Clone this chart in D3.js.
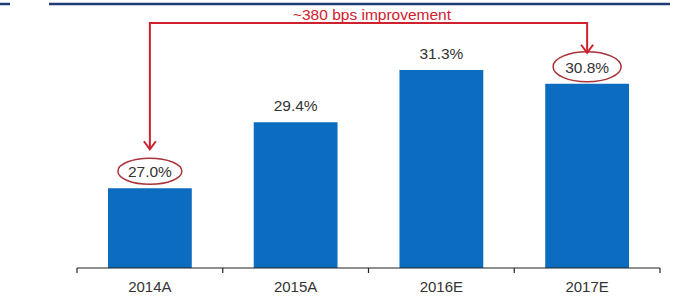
<!DOCTYPE html>
<html>
<head>
<meta charset="utf-8">
<script src="https://cdn.jsdelivr.net/npm/d3@7"></script>
<style>
  body { margin: 0; background: #fff; }
  text { font-family: "Liberation Sans", Arial, sans-serif; }
</style>
</head>
<body>
<div id="chart"></div>
<script>
// Chart data
const categories = ["2014A", "2015A", "2016E", "2017E"];
const values = [27.0, 29.4, 31.3, 30.8];
const valueLabels = ["27.0%", "29.4%", "31.3%", "30.8%"];
const highlighted = ["2014A", "2017E"];
const annotation = "~380 bps improvement";

const W = 677, H = 302;
const svg = d3.select("#chart").append("svg")
    .attr("width", W)
    .attr("height", H);

// Scales
const x = d3.scaleBand().domain(categories).range([77, 660]).paddingInner(0.425).paddingOuter(0.2125);
const y = d3.scaleLinear().domain([24.1, 31.3]).range([268, 70]);
const cx = d => x(d) + x.bandwidth() / 2;

// Header rules
svg.append("line").attr("x1", 0).attr("x2", 10).attr("y1", 4).attr("y2", 4)
    .attr("stroke", "#1e3a78").attr("stroke-width", 2.5);
svg.append("line").attr("x1", 49).attr("x2", 670).attr("y1", 4).attr("y2", 4)
    .attr("stroke", "#1e3a78").attr("stroke-width", 2.5);

// Bars
svg.selectAll(".bar").data(categories).enter().append("rect")
    .attr("class", "bar")
    .attr("x", d => x(d))
    .attr("width", x.bandwidth())
    .attr("y", (d, i) => y(values[i]))
    .attr("height", (d, i) => y.range()[0] - y(values[i]))
    .attr("fill", "#0b6cc0");

// Value labels
svg.selectAll(".val").data(categories).enter().append("text")
    .attr("class", "val")
    .attr("x", d => cx(d))
    .attr("y", (d, i) => y(values[i]) - 11)
    .attr("text-anchor", "middle")
    .attr("font-size", 15.5)
    .attr("fill", "#333")
    .text((d, i) => valueLabels[i]);

// Ellipses around highlighted labels
const ringSize = [[32, 13], [34, 15]];
const rings = highlighted.map((d, k) => ({
    cx: cx(d),
    cy: y(values[categories.indexOf(d)]) - 17,
    rx: ringSize[k][0],
    ry: ringSize[k][1]
}));
svg.selectAll(".ring").data(rings).enter().append("ellipse")
    .attr("class", "ring")
    .attr("cx", d => d.cx)
    .attr("cy", d => d.cy)
    .attr("rx", d => d.rx)
    .attr("ry", d => d.ry)
    .attr("fill", "none")
    .attr("stroke", "#a83238")
    .attr("stroke-width", 1.5);

// X axis
const xAxis = svg.append("g").attr("transform", `translate(0,${y.range()[0]})`);
xAxis.append("line").attr("x1", 77).attr("x2", 660).attr("stroke", "#222").attr("stroke-width", 1.2);
const bounds = categories.map(d => x(d) - x.step() * x.paddingInner() / 2).concat([660]);
bounds[0] = 77;
xAxis.selectAll(".tick").data(bounds).enter().append("line")
    .attr("x1", d => d).attr("x2", d => d).attr("y1", 0).attr("y2", 5)
    .attr("stroke", "#222").attr("stroke-width", 1.2);
xAxis.selectAll(".cat").data(categories).enter().append("text")
    .attr("x", d => cx(d))
    .attr("y", 24)
    .attr("text-anchor", "middle")
    .attr("font-size", 15)
    .attr("fill", "#333")
    .text(d => d);

// Annotation arrow
const topY = 23;
const red = "#d0202e";
const tips = [rings[0].cy - rings[0].ry - 9, rings[1].cy - rings[1].ry + 1];
svg.append("path")
    .attr("d", `M${rings[0].cx},${tips[0]} V${topY} H${rings[1].cx} V${tips[1]}`)
    .attr("fill", "none").attr("stroke", red).attr("stroke-width", 2);
rings.forEach((r, k) => {
    svg.append("path")
        .attr("d", `M${r.cx - 6},${tips[k] - 8} L${r.cx},${tips[k]} L${r.cx + 6},${tips[k] - 8}`)
        .attr("fill", "none").attr("stroke", red).attr("stroke-width", 2);
});
svg.append("text")
    .attr("x", 372).attr("y", topY - 3)
    .attr("text-anchor", "middle")
    .attr("font-size", 15.5)
    .attr("fill", red)
    .text(annotation);
</script>
</body>
</html>
